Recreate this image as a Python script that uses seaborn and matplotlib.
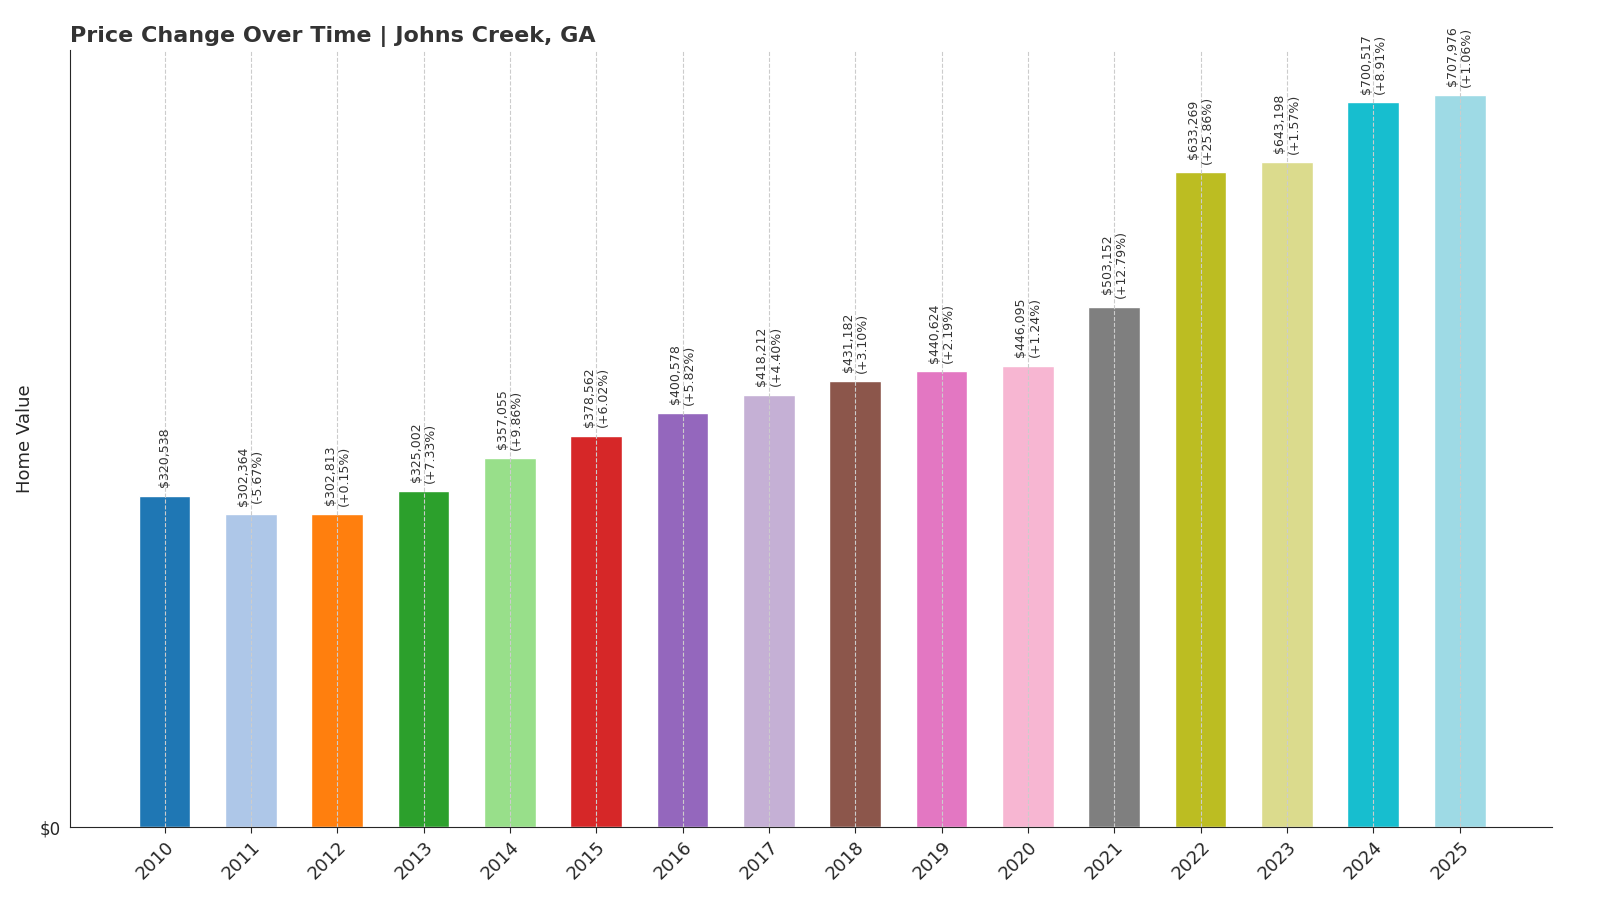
import seaborn as sns
import matplotlib.pyplot as plt
import pandas as pd

years = ['2010', '2011', '2012', '2013', '2014', '2015', '2016', '2017',
         '2018', '2019', '2020', '2021', '2022', '2023', '2024', '2025']
values = [320538, 302364, 302813, 325002, 357055, 378562, 400578, 418212,
          431182, 440624, 446095, 503152, 633269, 643198, 700517, 707976]
changes = [None, '-5.67%', '+0.15%', '+7.33%', '+9.86%', '+6.02%', '+5.82%', '+4.40%',
           '+3.10%', '+2.19%', '+1.24%', '+12.79%', '+25.86%', '+1.57%', '+8.91%', '+1.06%']

df = pd.DataFrame({'year': years, 'value': values})
colors = ['#1f77b4', '#aec7e8', '#ff7f0e', '#2ca02c', '#98df8a', '#d62728',
          '#9467bd', '#c5b0d5', '#8c564b', '#e377c2', '#f7b6d2', '#7f7f7f',
          '#bcbd22', '#dbdb8d', '#17becf', '#9edae5']

sns.set_style('white')
fig, ax = plt.subplots(figsize=(16, 9.14), dpi=100)
fig.subplots_adjust(left=0.044, right=0.97, top=0.945, bottom=0.095)

sns.barplot(data=df, x='year', y='value', hue='year', palette=colors,
            legend=False, width=0.6, saturation=1, ax=ax)

for i, (v, c) in enumerate(zip(values, changes)):
    txt = f'${v:,}' if c is None else f'${v:,}\n({c})'
    ax.text(i, v + 8000, txt, rotation=90, ha='center', va='bottom',
            fontsize=9, color='#333333', linespacing=1.1)

ax.grid(axis='x', linestyle='--', color='#cccccc', linewidth=0.8)
ax.set_axisbelow(False)
ax.set_ylim(0, 751000)
ax.set_xlim(-1.09, 16.07)
ax.set_yticks([0])
ax.set_yticklabels(['$0'], fontsize=12)
ax.set_xticks(range(len(years)))
ax.set_xticklabels(years, rotation=45, ha='right', fontsize=13, rotation_mode='anchor')
ax.tick_params(axis='x', bottom=True, length=4)
ax.set_xlabel('')
ax.set_ylabel('Home Value', fontsize=13)
ax.set_title('Price Change Over Time | Johns Creek, GA', loc='left',
             fontsize=16, fontweight='bold', color='#333333')
sns.despine(ax=ax)

plt.savefig('out.png', dpi=100)
